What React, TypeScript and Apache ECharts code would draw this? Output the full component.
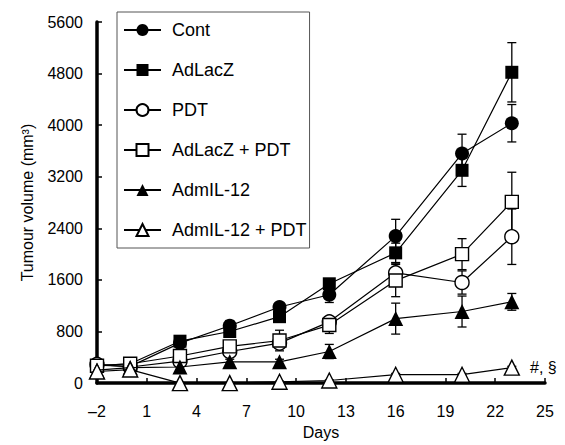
import React, { useEffect, useRef } from "react";
import * as echarts from "echarts";

const days = [-2, 0, 3, 6, 9, 12, 16, 20, 23];
const seriesNames = ["Cont", "AdLacZ", "PDT", "AdLacZ + PDT", "AdmIL-12", "AdmIL-12 + PDT"];
const cont = [280, 260, 620, 890, 1180, 1370, 2280, 3560, 4030];
const adLacZ = [270, 300, 650, 800, 1030, 1540, 2020, 3300, 4820];
const pdt = [290, 250, 340, 490, 620, 950, 1710, 1560, 2270];
const adLacZPdt = [270, 300, 420, 570, 660, 900, 1590, 2000, 2810];
const admIL12 = [200, 240, 250, 330, 330, 490, 1000, 1110, 1260];
const admIL12Pdt = [180, 210, 0, 0, 20, 40, 130, 130, 240];

const contErr = [40, 30, 60, 80, 60, 120, 260, 300, 290];
const adLacZErr = [30, 40, 50, 60, 70, 80, 150, 250, 460];
const pdtErr = [30, 30, 40, 60, 60, 80, 150, 180, 430];
const adLacZPdtErr = [40, 40, 60, 60, 160, 130, 250, 240, 460];
const admIL12Err = [30, 30, 40, 40, 40, 110, 240, 240, 130];
const admIL12PdtErr = [20, 20, 10, 10, 10, 10, 20, 20, 20];

const annotation = "#, §";

const values = [cont, adLacZ, pdt, adLacZPdt, admIL12, admIL12Pdt];
const errors = [contErr, adLacZErr, pdtErr, adLacZPdtErr, admIL12Err, admIL12PdtErr];
const symbols = ["circle", "rect", "circle", "rect", "triangle", "triangle"];
const filled = [true, true, false, false, true, false];

const FONT = "'Liberation Sans', Arial, Helvetica, sans-serif";

export default function App() {
  const ref = useRef<HTMLDivElement>(null);
  useEffect(() => {
    if (!ref.current) return;
    const chart = echarts.init(ref.current, null, { renderer: "svg" });

    const lineSeries: any[] = seriesNames.map((name, i) => ({
      name,
      type: "line",
      data: days.map((d, j) => [d, values[i][j]]),
      symbol: symbols[i],
      symbolSize: symbols[i] === "triangle" ? 15 : symbols[i] === "rect" ? 13 : 14,
      showAllSymbol: true,
      z: 3 + i,
      lineStyle: { color: "#000", width: 1.2 },
      itemStyle: {
        color: filled[i] ? "#000" : "#fff",
        borderColor: "#000",
        borderWidth: filled[i] ? 0 : 1.4,
      },
      label:
        i === 5
          ? {
              show: true,
              position: "right",
              distance: 10,
              formatter: (p: any) => (p.dataIndex === days.length - 1 ? annotation : ""),
              color: "#000",
              fontSize: 16,
              fontFamily: FONT,
            }
          : { show: false },
    }));

    const errSeries: any[] = seriesNames.map((name, i) => ({
      name: name + " err",
      type: "custom",
      z: 2,
      silent: true,
      data: days.map((d, j) => [d, values[i][j] - errors[i][j], values[i][j] + errors[i][j]]),
      renderItem: (params: any, api: any) => {
        const x = api.value(0);
        const lo = api.coord([x, api.value(1)]);
        const hi = api.coord([x, api.value(2)]);
        const w = 4.5;
        const style = { stroke: "#000", lineWidth: 1.3 };
        return {
          type: "group",
          children: [
            { type: "line", shape: { x1: lo[0], y1: lo[1], x2: hi[0], y2: hi[1] }, style },
            { type: "line", shape: { x1: lo[0] - w, y1: lo[1], x2: lo[0] + w, y2: lo[1] }, style },
            { type: "line", shape: { x1: hi[0] - w, y1: hi[1], x2: hi[0] + w, y2: hi[1] }, style },
          ],
        };
      },
    }));

    chart.setOption({
      animation: false,
      backgroundColor: "#fff",
      grid: { left: 97, right: 20, top: 22, bottom: 55.5, containLabel: false },
      legend: {
        data: seriesNames,
        orient: "vertical",
        left: 117,
        top: 12,
        padding: [9, 3, 9, 6],
        itemGap: 22,
        itemWidth: 37,
        itemHeight: 15,
        borderColor: "#555",
        borderWidth: 1,
        textStyle: { color: "#000", fontSize: 18, fontFamily: FONT, padding: [0, 0, 0, 6] },
      },
      xAxis: {
        type: "value",
        min: -2,
        max: 25,
        interval: 3,
        name: "Days",
        nameLocation: "middle",
        nameGap: 38,
        nameTextStyle: { color: "#000", fontSize: 16, fontFamily: FONT },
        axisLine: { onZero: false, lineStyle: { color: "#000", width: 3.5 } },
        axisTick: { inside: true, length: 5, lineStyle: { color: "#000", width: 1.5 } },
        axisLabel: {
          color: "#000",
          fontSize: 16,
          fontFamily: FONT,
          margin: 20,
          formatter: (v: number) => String(v).replace("-", "–"),
        },
        splitLine: { show: false },
      },
      yAxis: {
        type: "value",
        min: 0,
        max: 5600,
        interval: 800,
        name: "Tumour volume (mm³)",
        nameLocation: "middle",
        nameGap: 62,
        nameTextStyle: { color: "#000", fontSize: 16, fontFamily: FONT },
        axisLine: { show: true, onZero: false, lineStyle: { color: "#000", width: 3.5 } },
        axisTick: { show: true, inside: true, length: 5, lineStyle: { color: "#000", width: 1.5 } },
        axisLabel: {
          color: "#000",
          fontSize: 16,
          fontFamily: FONT,
          margin: 14,
          formatter: (v: number) => String(v),
        },
        splitLine: { show: false },
      },
      series: [...errSeries, ...lineSeries],
    });
    return () => chart.dispose();
  }, []);
  return (
    <div
      ref={ref}
      style={{ position: "fixed", left: 0, top: 0, width: 565, height: 445, background: "#fff" }}
    />
  );
}
